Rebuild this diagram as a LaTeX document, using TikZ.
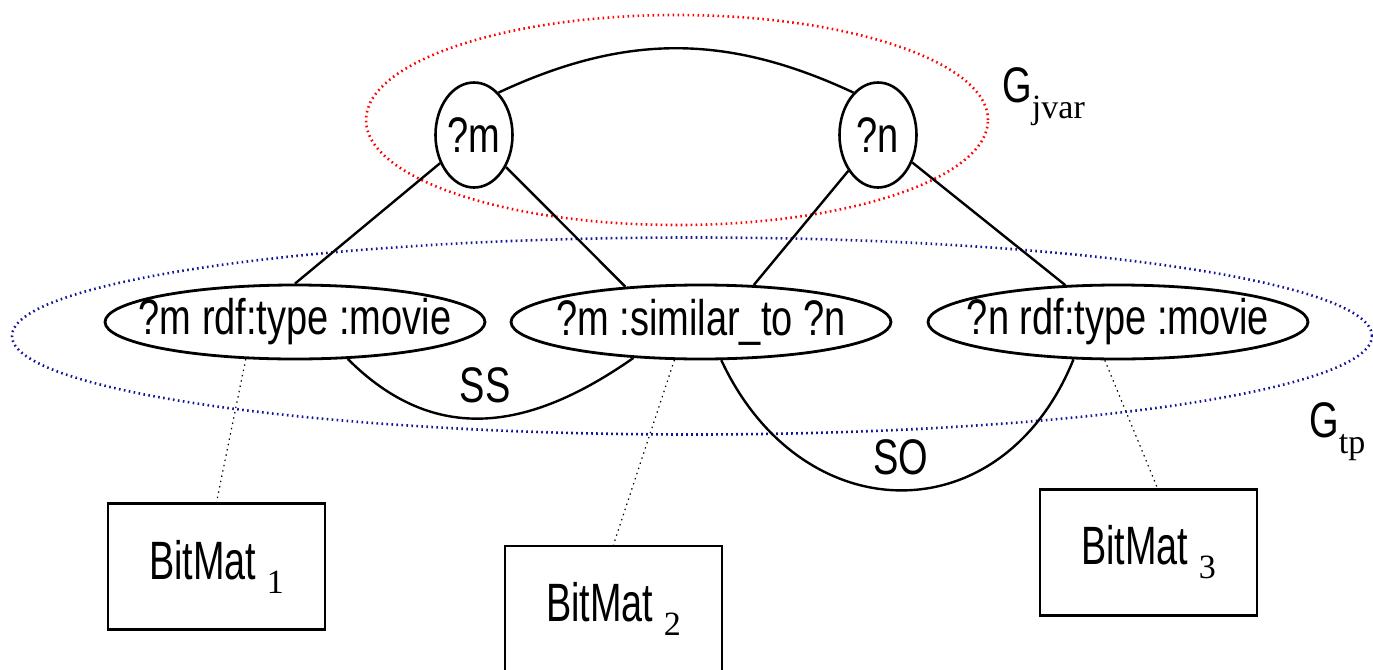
\documentclass[tikz,border=0pt]{standalone}
\usepackage{fontspec}
\setmainfont{Liberation Sans}[FakeStretch=0.76]
\newfontfamily\boxfont{Liberation Sans}[FakeStretch=0.7]
\newfontfamily\subserif{Liberation Serif}
\usetikzlibrary{shapes.geometric,calc}

% serif subscript, set below the baseline
\newcommand{\lowsub}[2][7pt]{\raisebox{-#1}{\fontsize{17}{17}\subserif #2}}

\begin{document}
\begin{tikzpicture}[x=0.5pt,y=-0.5pt,
  lbl/.style={font=\fontsize{25}{25}\selectfont, inner sep=0pt},
  jvnode/.style={ellipse, draw, line width=1.3pt, minimum width=38.5pt,
    minimum height=52.5pt, inner sep=0pt, lbl},
  tpnode/.style={ellipse, draw, line width=1.4pt, minimum width=190pt,
    minimum height=37pt, inner sep=0pt, label={[lbl]center:#1}},
  bmbox/.style={rectangle, draw, line width=1.3pt, minimum width=108.5pt,
    minimum height=63pt, inner sep=0pt, font=\boxfont\fontsize{27}{27}\selectfont},
  edge/.style={line width=1.2pt},
  link/.style={line width=0.6pt, dash pattern=on 0.7pt off 2pt},
  group/.style={ellipse, line width=1.3pt, dash pattern=on 0.8pt off 1.7pt, inner sep=0pt}
]
\useasboundingbox (0,0) rectangle (1373,670);

% groupings
\node (gjvar) [group, draw=red, minimum width=311pt, minimum height=105pt] at (677,120) {};
\node (gtp) [group, draw={rgb,255:red,20;green,20;blue,150}, minimum width=680pt, minimum height=98.5pt] at (692,336) {};
\node (gjvarlbl) [lbl, anchor=west] at (1002,97) {G\lowsub[8pt]{jvar}};
\node (gtplbl) [lbl, anchor=west] at (1309,432) {G\lowsub[8pt]{tp}};

% join variables
\node (m) [jvnode] at (474,135) {?m};
\node (n) [jvnode] at (878,135) {?n};

% triple patterns
\node (tp1) [tpnode={?m rdf:type :movie}] at (295,322) {};
\node (tp2) [tpnode={?m :similar\_to ?n}] at (701,322) {};
\node (tp3) [tpnode={?n rdf:type :movie}] at (1118,322) {};

% bitmats
\node (bm1) [bmbox] at (216.5,566.5) {BitMat \lowsub{1}};
\node (bm2) [bmbox] at (613.5,609) {BitMat \lowsub{2}};
\node (bm3) [bmbox] at (1148.5,552.5) {BitMat \lowsub{3}};

% variable graph edges (y axis points down, so angles are mirrored)
\draw[edge] (m.60) .. controls +(-25:140) and +(-155:140) .. (n.120);
\draw[edge] (m) -- (tp1.north);
\draw[edge] (m) -- (tp2.155);
\draw[edge] (n) -- (tp2.35);
\draw[edge] (n) -- (tp3.145);

% triple pattern joins
\draw[edge] (tp1.-35) .. controls +(45:125) and +(145:125) .. node[lbl, pos=0.5, above=7pt] (ss) {SS} (tp2.-152);
\draw[edge] (tp2.-62) .. controls +(65:190) and +(112:190) .. node[lbl, pos=0.5, above=7pt] (so) {SO} (tp3.-140);

% pattern to bitmat links
\draw[link] (tp1.-143) -- (bm1.north);
\draw[link] (tp2.-125) -- (bm2.north);
\draw[link] (tp3.-109) -- ($(bm3.north)+(9,0)$);
\end{tikzpicture}
\end{document}
